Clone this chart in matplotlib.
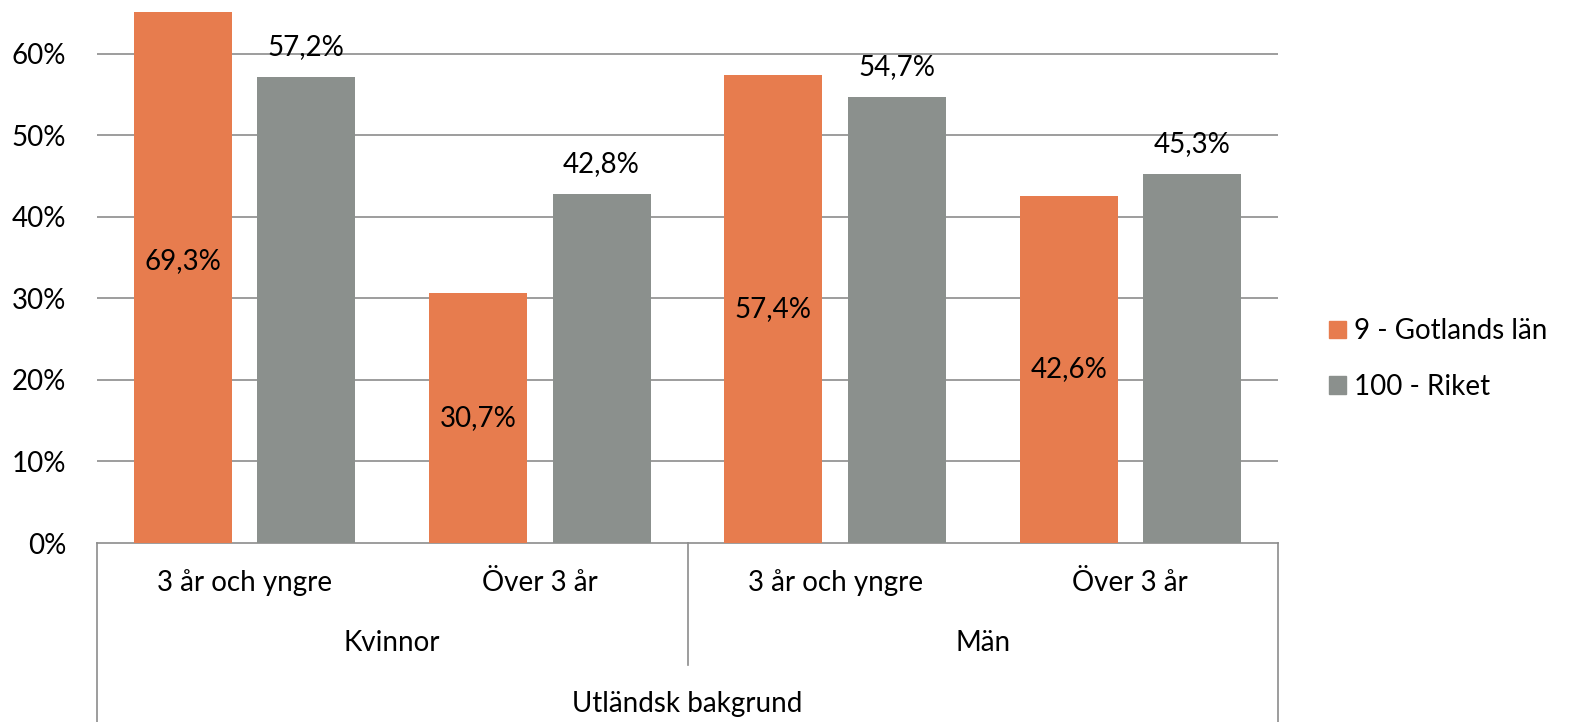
import matplotlib
matplotlib.use("Agg")
import matplotlib.pyplot as plt
from matplotlib.lines import Line2D
from matplotlib.patches import Patch
import matplotlib.transforms as mtransforms

plt.rcParams['font.family'] = ['Lato', 'DejaVu Sans']

categories = ["3 år och yngre", "Över 3 år", "3 år och yngre", "Över 3 år"]
groups = ["Kvinnor", "Män"]
top_group = "Utländsk bakgrund"
series_names = ["9 - Gotlands län", "100 - Riket"]
gotland = [69.3, 30.7, 57.4, 42.6]
riket = [57.2, 42.8, 54.7, 45.3]
yticks = [0, 10, 20, 30, 40, 50, 60]

c_orange = "#E77C4E"
c_gray = "#8B908D"
c_grid = "#8C8C8C"
fs = 20

W, H = 1571, 722
fig = plt.figure(figsize=(W / 100, H / 100), dpi=100)
ax = fig.add_axes([97 / W, (H - 543) / H, (1278 - 97) / W, (543 - 12) / H])

x = list(range(len(categories)))
off, bw = 0.209, 0.332
b1 = ax.bar([i - off for i in x], gotland, width=bw, color=c_orange, zorder=3)
b2 = ax.bar([i + off for i in x], riket, width=bw, color=c_gray, zorder=3)

ax.set_xlim(-0.5, len(categories) - 0.5)
ax.set_ylim(0, 65.15)
ax.set_yticks(yticks)
ax.set_yticklabels([f"{v}%" for v in yticks])
ax.tick_params(axis='y', length=0, pad=22, labelsize=fs)
ax.set_xticks([])
for s in ["top", "right", "left"]:
    ax.spines[s].set_visible(False)
ax.spines["bottom"].set_color(c_grid)
ax.spines["bottom"].set_linewidth(1.2)
for v in yticks[1:]:
    ax.axhline(v, color=c_grid, lw=1.2, zorder=1)

def fmt(v):
    return f"{v:.1f}".replace(".", ",") + "%"

for i, v in enumerate(gotland):
    ax.text(i - off, v / 2, fmt(v), ha="center", va="center", fontsize=fs, zorder=4)
for i, v in enumerate(riket):
    ax.text(i + off, v + 3.7, fmt(v), ha="center", va="center", fontsize=fs, zorder=4)

# multi-level category axis
trans = mtransforms.blended_transform_factory(ax.transData, fig.transFigure)
def fy(py):
    return (H - py) / H
for i, c in enumerate(categories):
    ax.text(i, fy(583), c, ha="center", va="center", fontsize=fs, transform=trans)
for g, name in enumerate(groups):
    ax.text(2 * g + 0.5, fy(643), name, ha="center", va="center", fontsize=fs, transform=trans)
ax.text(1.5, fy(704), top_group, ha="center", va="center", fontsize=fs, transform=trans)

for xd, yb in [(-0.5, 722), (1.5, 665), (3.5, 722)]:
    ax.add_line(Line2D([xd, xd], [fy(543), fy(yb)], transform=trans, color=c_grid,
                       lw=1.2, clip_on=False))

handles = [Patch(color=c_orange), Patch(color=c_gray)]
fig.legend(handles, series_names, loc="center left",
           bbox_to_anchor=(1304 / W, fy(359)), frameon=False, fontsize=fs,
           handlelength=0.6, handleheight=0.6, handletextpad=0.3, labelspacing=1.05)

fig.savefig("out.png", dpi=100)
